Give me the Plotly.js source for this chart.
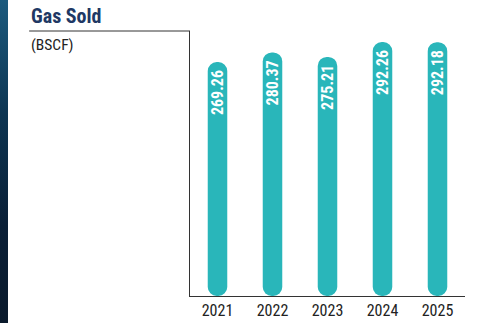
<!DOCTYPE html>
<html><head><meta charset="utf-8">
<script src="https://cdn.plot.ly/plotly-3.0.1.min.js"></script>
<style>
html,body{margin:0;padding:0;background:#fff;}
#strip{position:absolute;left:0;top:0;width:8px;height:323px;background:linear-gradient(#1c5a7e,#0d3552 35%,#0a1f36 70%,#0a1a2c);}
#chart{position:absolute;left:0;top:0;width:491px;height:323px;}
</style></head>
<body><div id="strip"></div><div id="chart"></div>
<script>
const years = ['2021','2022','2023','2024','2025'];
const gasSold = [269.26, 280.37, 275.21, 292.26, 292.18];
const labels = ['269.26','280.37','275.21','292.26','292.18'];

const FONT = '"Roboto Condensed","Liberation Sans Narrow","DejaVu Sans Condensed",Roboto,sans-serif';
const teal = '#29b6ba';

const bars = {type:'bar', x:years, y:gasSold, base:years.map(()=>0), width:0.355,
  marker:{color:teal, cornerradius:'50%'},
  hoverinfo:'none', cliponaxis:false};

const valueNotes = years.map((yr,i)=>({
  x:i, y:gasSold[i], xref:'x', yref:'y', text:'<b>'+labels[i]+'</b>', textangle:-90,
  xanchor:'center', yanchor:'top', yshift:-7, showarrow:false, borderpad:0,
  font:{family:FONT, size:16, color:'#fff'}
}));

Plotly.newPlot('chart',[bars],{
  width:491, height:323,
  margin:{l:190, r:26, t:31, b:27},
  paper_bgcolor:'rgba(0,0,0,0)', plot_bgcolor:'rgba(0,0,0,0)',
  showlegend:false,
  xaxis:{type:'category', range:[-0.5, years.length-0.5], showline:true, linecolor:'#333', linewidth:1, ticks:'',
    tickfont:{family:FONT, size:16, color:'#222'}, showgrid:false, zeroline:false},
  yaxis:{range:[0,305], showline:true, linecolor:'#333', linewidth:1, showticklabels:false,
    ticks:'', showgrid:false, zeroline:false, fixedrange:true},
  shapes:[{type:'line', xref:'paper', yref:'paper', x0:-0.585, x1:0, y0:1, y1:1,
    line:{color:'#333', width:1}}],
  annotations:[
    {text:'<b>Gas Sold</b>', xref:'paper', yref:'paper', x:-0.585, y:1, xanchor:'left', yanchor:'bottom',
     yshift:1, showarrow:false, font:{family:FONT, size:20, color:'#203864'}},
    {text:'(BSCF)', xref:'paper', yref:'paper', x:-0.585, y:1, xanchor:'left', yanchor:'top',
     yshift:-3, showarrow:false, font:{family:FONT, size:15.5, color:'#222'}}
  ].concat(valueNotes)
},{staticPlot:true});
</script></body></html>
